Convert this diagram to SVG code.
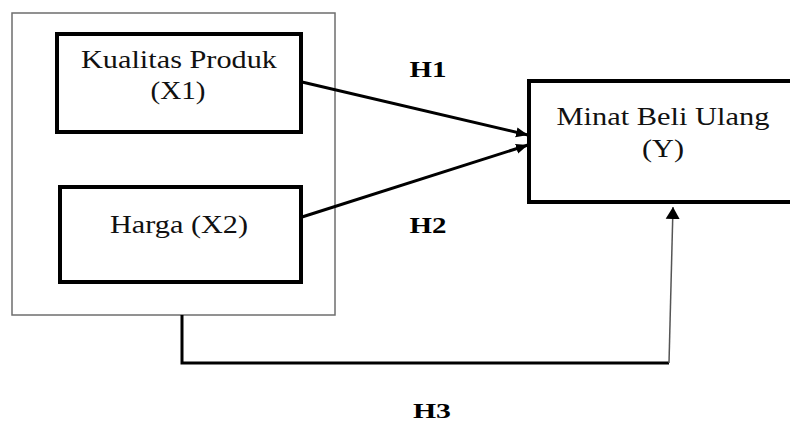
<svg xmlns="http://www.w3.org/2000/svg" width="790" height="424" viewBox="0 0 790 424">
<style>
.bg{fill:#ffffff}
.node{fill:#ffffff;stroke:#000000;stroke-width:4}
.frame{fill:none;stroke:#6e6e6e;stroke-width:1.5}
.lbl{font-family:"Liberation Serif","Times New Roman",serif;font-size:25px;fill:#111111;text-anchor:middle}
.h{font-family:"Liberation Serif","Times New Roman",serif;font-size:24px;font-weight:bold;fill:#000000;text-anchor:middle}
.conn{fill:none;stroke:#000000;stroke-width:3}
.thin{fill:none;stroke:#555555;stroke-width:1.5}
</style>
<defs>
<marker id="arr" markerUnits="userSpaceOnUse" markerWidth="14" markerHeight="12" refX="12" refY="6" orient="auto">
<path d="M0,1 L12,6 L0,11 Z" fill="#000000"/>
</marker>
<marker id="arr2" markerUnits="userSpaceOnUse" markerWidth="13" markerHeight="16" refX="12" refY="8" orient="auto">
<path d="M0,1 L12,8 L0,15 Z" fill="#000000"/>
</marker>
</defs>
<rect class="bg" x="0" y="0" width="790" height="424"/>
<g id="frame">
<rect class="frame" x="12" y="13" width="323" height="302"/>
</g>
<g id="x1">
<rect class="node" x="57" y="34" width="244" height="98"/>
<text class="lbl" x="179" y="68" textLength="196" lengthAdjust="spacingAndGlyphs">Kualitas Produk</text>
<text class="lbl" x="178" y="99" textLength="55" lengthAdjust="spacingAndGlyphs">(X1)</text>
</g>
<g id="x2">
<rect class="node" x="60" y="187" width="241" height="95"/>
<text class="lbl" x="179" y="233" textLength="138" lengthAdjust="spacingAndGlyphs">Harga (X2)</text>
</g>
<g id="y">
<rect class="node" x="529" y="81" width="280" height="121"/>
<text class="lbl" x="663" y="125" textLength="213" lengthAdjust="spacingAndGlyphs">Minat Beli Ulang</text>
<text class="lbl" x="663" y="157" textLength="42" lengthAdjust="spacingAndGlyphs">(Y)</text>
</g>
<g id="connectors">
<line class="conn" x1="302" y1="82" x2="528" y2="135" marker-end="url(#arr)"/>
<line class="conn" x1="302" y1="217" x2="528" y2="145" marker-end="url(#arr)"/>
<path class="conn" d="M182,315 V363 H669"/>
<line class="thin" x1="669" y1="363" x2="673" y2="207" marker-end="url(#arr2)"/>
</g>
<g id="labels">
<text class="h" x="428" y="77" textLength="37" lengthAdjust="spacingAndGlyphs">H1</text>
<text class="h" x="428" y="233" textLength="37" lengthAdjust="spacingAndGlyphs">H2</text>
<text class="h" x="432" y="418" textLength="38" lengthAdjust="spacingAndGlyphs" style="font-size:22px">H3</text>
</g>
</svg>
